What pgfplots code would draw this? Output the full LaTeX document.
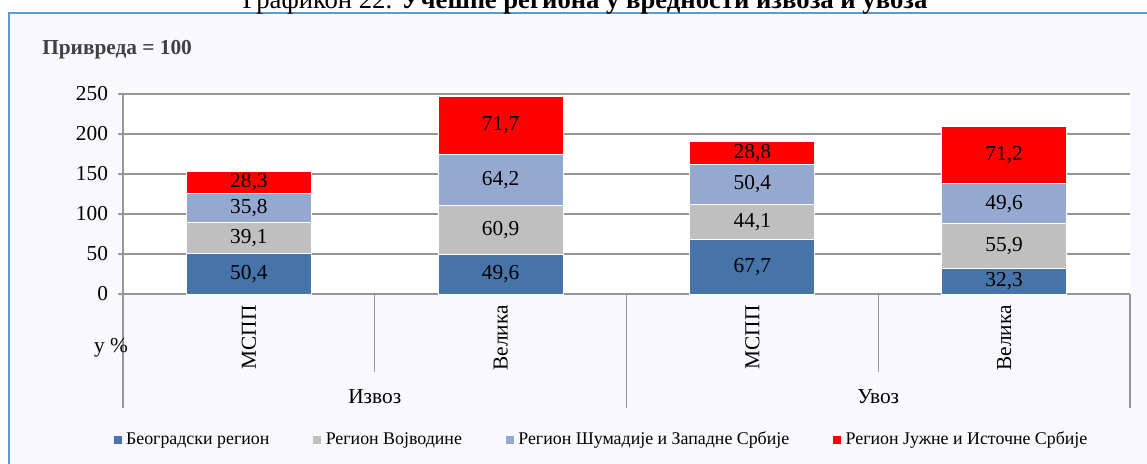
\documentclass[border=0pt]{standalone}
\usepackage{fontspec}
\setmainfont{Liberation Serif}
\usepackage{pgfplots}
\usepackage{pgfplotstable}
\pgfplotsset{compat=1.18}

\definecolor{beo}{RGB}{70,115,168}
\definecolor{voj}{RGB}{191,191,191}
\definecolor{sum}{RGB}{149,169,208}
\definecolor{jug}{RGB}{255,0,0}
\definecolor{okvir}{RGB}{91,155,213}
\definecolor{pozadina}{RGB}{248,248,254}
\definecolor{mreza}{RGB}{150,150,150}

% x: 0 = Izvoz MSPP, 1 = Izvoz Velika, 2 = Uvoz MSPP, 3 = Uvoz Velika
\pgfplotstableread{
x  beo  voj  sum  jug
0  50.4 39.1 35.8 28.3
1  49.6 60.9 64.2 71.7
2  67.7 44.1 50.4 28.8
3  32.3 55.9 49.6 71.2
}\regioni

\pgfplotsset{
  sq/.style={legend image code/.code={
      \fill[##1,draw=none] (0pt,-3pt) rectangle (6pt,3pt);
      \path (9pt,0pt);}},
  okvirose/.style={
    at={(92.25pt,127.5pt)}, anchor=south west, scale only axis,
    width=755.25pt, height=150pt,
    xmin=-0.5, xmax=3.5, ymin=0, ymax=250, clip=false,
    /pgf/number format/assume math mode=true},
  oznaka/.style={draw=none, mark=none, point meta=explicit,
    nodes near coords={\pgfmathprintnumber[fixed,fixed zerofill,precision=1,use comma,assume math mode=true]{\pgfplotspointmeta}},
    every node near coord/.append style={anchor=center,text=black}},
}

\begin{document}
\fontsize{16}{19}\selectfont
\begin{tikzpicture}[x=0.75pt,y=0.75pt]
\useasboundingbox (0,0) rectangle (1147,464);
\fill[pozadina] (9,-5) rectangle (1155,451);
\draw[okvir,line width=1.5pt] (9,-5) -- (9,451) -- (1155,451);
\node[anchor=base,font=\fontsize{20}{24}\selectfont] at (585,455) {Графикон 22. \textbf{Учешће региона у вредности извоза и увоза}};
\node[anchor=base west,inner sep=0pt,text=black!75,font=\bfseries] at (42,409) {Привреда = 100};

\begin{axis}[
  okvirose,
  ybar stacked, bar width=0.4965,
  axis background/.style={fill=white},
  axis x line*=bottom, axis y line*=left,
  axis line style={mreza,line width=0.8pt},
  ytick={0,50,...,250},
  ymajorgrids, grid style={mreza,line width=0.8pt},
  tick align=outside, major tick length=3.75pt,
  y tick style={mreza,line width=0.8pt},
  xtick={0,1,2,3}, xticklabels={МСПП,Велика,МСПП,Велика},
  x tick style={draw=none},
  xticklabel style={yshift=-4.5pt,rotate=90,anchor=east,inner sep=0pt},
  yticklabel style={xshift=-2pt},
  legend columns=4,
  legend style={at={(-0.0095,-0.73)}, anchor=west, draw=none, fill=none,
    font=\fontsize{13.4}{15}\selectfont, inner sep=0pt,
    nodes={inner sep=0pt},
    /tikz/every even column/.append style={column sep=33pt}},
]
\addplot[fill=beo,draw=white,line width=0.6pt,sq] table[x=x,y=beo]{\regioni};
\addlegendentry{Београдски регион}
\addplot[fill=voj,draw=white,line width=0.6pt,sq] table[x=x,y=voj]{\regioni};
\addlegendentry{Регион Војводине}
\addplot[fill=sum,draw=white,line width=0.6pt,sq] table[x=x,y=sum]{\regioni};
\addlegendentry{Регион Шумадије и Западне Србије}
\addplot[fill=jug,draw=white,line width=0.6pt,sq] table[x=x,y=jug]{\regioni};
\addlegendentry{Регион Јужне и Источне Србије}

\draw[mreza,line width=0.8pt] (axis cs:-0.5,0) -- ++(0pt,-85.5pt);
\draw[mreza,line width=0.8pt] (axis cs:1.5,0) -- ++(0pt,-85.5pt);
\draw[mreza,line width=0.8pt] (axis cs:3.5,0) -- ++(0pt,-85.5pt);
\draw[mreza,line width=0.8pt] (axis cs:0.5,0) -- ++(0pt,-58.5pt);
\draw[mreza,line width=0.8pt] (axis cs:2.5,0) -- ++(0pt,-58.5pt);
\node at ([yshift=-77pt]axis cs:0.5,0) {Извоз};
\node at ([yshift=-77pt]axis cs:2.5,0) {Увоз};
\end{axis}

% vrednosti na sredini svakog segmenta
\begin{axis}[okvirose, hide axis]
\addplot[oznaka] table[x=x,y expr={\thisrow{beo}/2},meta=beo]{\regioni};
\addplot[oznaka] table[x=x,y expr={\thisrow{beo}+\thisrow{voj}/2},meta=voj]{\regioni};
\addplot[oznaka] table[x=x,y expr={\thisrow{beo}+\thisrow{voj}+\thisrow{sum}/2},meta=sum]{\regioni};
\addplot[oznaka] table[x=x,y expr={\thisrow{beo}+\thisrow{voj}+\thisrow{sum}+\thisrow{jug}/2},meta=jug]{\regioni};
\end{axis}
\node at (111,116) {у \%};
\end{tikzpicture}
\end{document}
